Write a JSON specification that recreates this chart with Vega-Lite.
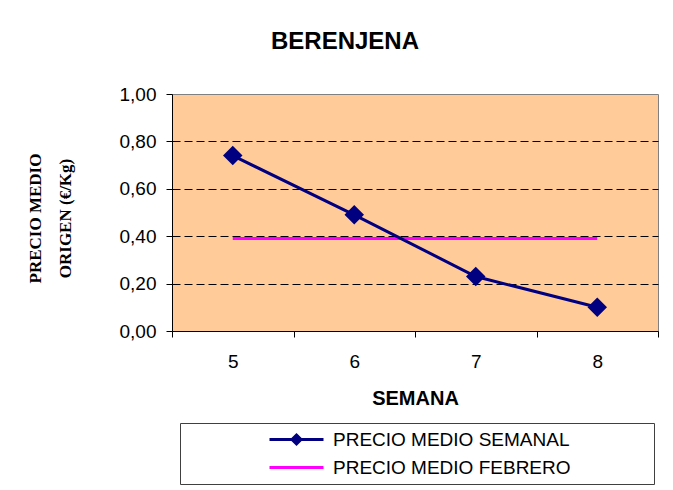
{
  "$schema": "https://vega.github.io/schema/vega-lite/v6.json",
  "width": 486,
  "height": 237,
  "autosize": {"type": "none"},
  "padding": {"left": 172, "top": 94, "right": 15, "bottom": 159},
  "background": "white",
  "title": {
    "text": "BERENJENA",
    "font": "Liberation Sans",
    "fontSize": 24,
    "fontWeight": "bold",
    "color": "black",
    "anchor": "middle",
    "frame": "group",
    "dx": -70,
    "baseline": "alphabetic",
    "offset": 12
  },
  "data": {
    "values": [
      {"semana": 5, "precio": 0.39, "serie": "PRECIO MEDIO FEBRERO"},
      {"semana": 6, "precio": 0.39, "serie": "PRECIO MEDIO FEBRERO"},
      {"semana": 7, "precio": 0.39, "serie": "PRECIO MEDIO FEBRERO"},
      {"semana": 8, "precio": 0.39, "serie": "PRECIO MEDIO FEBRERO"},
      {"semana": 5, "precio": 0.74, "serie": "PRECIO MEDIO SEMANAL"},
      {"semana": 6, "precio": 0.49, "serie": "PRECIO MEDIO SEMANAL"},
      {"semana": 7, "precio": 0.23, "serie": "PRECIO MEDIO SEMANAL"},
      {"semana": 8, "precio": 0.10, "serie": "PRECIO MEDIO SEMANAL"}
    ]
  },
  "encoding": {
    "x": {
      "field": "semana",
      "type": "ordinal",
      "scale": {"type": "band", "paddingInner": 0, "paddingOuter": 0},
      "axis": {
        "title": "SEMANA",
        "labelAngle": 0,
        "tickBand": "extent",
        "tickSize": 6,
        "tickColor": "black",
        "domainColor": "black",
        "labelFont": "Liberation Sans",
        "labelFontSize": 19,
        "labelColor": "black",
        "labelPadding": 15,
        "titleFont": "Liberation Sans",
        "titleFontSize": 20,
        "titleFontWeight": "bold",
        "titleColor": "black",
        "titlePadding": 17,
        "grid": false
      }
    },
    "y": {
      "field": "precio",
      "type": "quantitative",
      "scale": {"domain": [0, 1]},
      "axis": {
        "title": ["PRECIO MEDIO", "ORIGEN (€/Kg)"],
        "values": [0, 0.2, 0.4, 0.6, 0.8, 1],
        "labelExpr": "replace(format(datum.value, '.2f'), '.', ',')",
        "tickSize": 6,
        "tickColor": "black",
        "domainColor": "black",
        "labelPadding": 10,
        "labelFont": "Liberation Sans",
        "labelFontSize": 19,
        "labelColor": "black",
        "grid": true,
        "gridColor": "black",
        "gridDash": [8, 4],
        "gridOpacity": {"condition": {"test": "datum.value >= 0.99 || datum.value <= 0.01", "value": 0}, "value": 1},
        "titleFont": "Liberation Serif",
        "titleFontSize": 17,
        "titleFontWeight": "bold",
        "titleColor": "black",
        "titleAngle": -90,
        "titleX": -137,
        "titleY": 124,
        "titleAlign": "center",
        "titleBaseline": "middle",
        "titleLineHeight": 30
      }
    }
  },
  "layer": [
    {
      "mark": {"type": "line", "strokeWidth": 3},
      "encoding": {
        "color": {
          "field": "serie",
          "type": "nominal",
          "scale": {
            "domain": ["PRECIO MEDIO SEMANAL", "PRECIO MEDIO FEBRERO"],
            "range": ["#000080", "#FF00FF"]
          },
          "legend": {
            "title": null,
            "orient": "none",
            "legendX": 8,
            "legendY": 329,
            "direction": "vertical",
            "padding": 6,
            "fillColor": "white",
            "strokeColor": "#404040",
            "symbolOffset": 100,
            "symbolSize": 324,
            "symbolStrokeWidth": 3,
            "labelOffset": 26,
            "labelFont": "Liberation Sans",
            "labelFontSize": 19,
            "labelColor": "black",
            "labelLimit": 600,
            "rowPadding": 7,
            "labelExpr": "datum.label + '\u00a0\u00a0\u00a0\u00a0\u00a0\u00a0\u00a0\u00a0\u00a0\u00a0\u00a0\u00a0\u2800'",
            "encode": {
              "symbols": {
                "update": {
                  "shape": {"signal": "datum.value === 'PRECIO MEDIO SEMANAL' ? 'M-3,0H3M0,-0.5L0.5,0L0,0.5L-0.5,0Z' : 'M-3,0H3'"},
                  "fill": {"signal": "datum.value === 'PRECIO MEDIO SEMANAL' ? '#000080' : '#FF00FF'"}
                }
              }
            }
          }
        }
      }
    },
    {
      "transform": [{"filter": "datum.serie === 'PRECIO MEDIO SEMANAL'"}],
      "mark": {"type": "point", "shape": "diamond", "filled": true, "size": 380, "opacity": 1, "color": "#000080"}
    }
  ],
  "config": {
    "view": {"fill": "#FFCC99", "stroke": "#808080", "strokeWidth": 1}
  }
}
